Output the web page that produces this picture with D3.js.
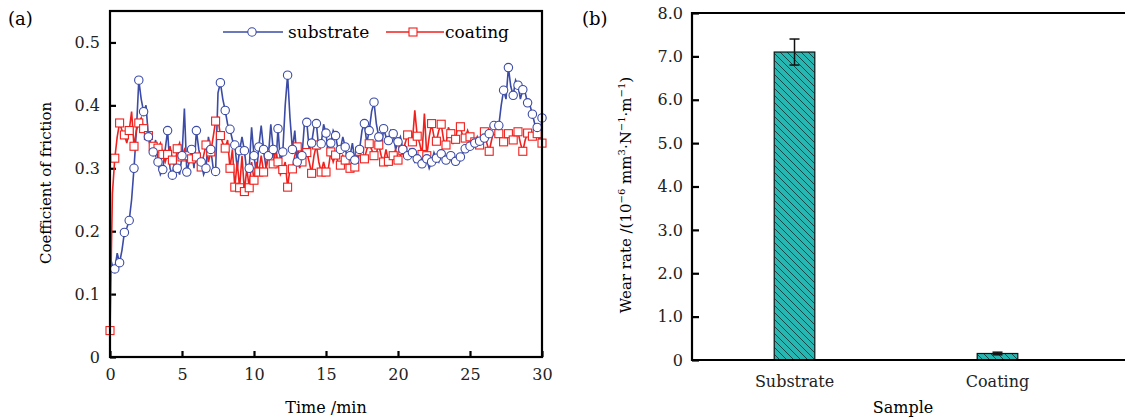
<!DOCTYPE html>
<html>
<head>
<meta charset="utf-8">
<script src="https://cdn.jsdelivr.net/npm/d3@7"></script>
<style>
  body { margin: 0; background: #fff; }
  svg { display: block; font-family: "DejaVu Serif", serif; }
  .axis text { font-size: 16px; fill: #222; font-family: "DejaVu Serif", serif; }
</style>
</head>
<body>
<svg id="chart" width="1125" height="417"></svg>
<script>
// sampling step of the friction record (min); markers sit on every second sample
const sampleStep = 1 / 6

// coefficient of friction, substrate (blue), one value per sample, 0 .. 30 min
const substrateCof = [
    0.16, 0.145, 0.14, 0.165, 0.15, 0.17, 0.198, 0.205, 0.217, 0.25, 0.30, 0.36,
    0.44, 0.41, 0.39, 0.40, 0.35, 0.33, 0.326, 0.345, 0.31, 0.29, 0.298, 0.33,
    0.36, 0.30, 0.289, 0.315, 0.30, 0.29, 0.32, 0.395, 0.294, 0.31, 0.33, 0.30,
    0.36, 0.33, 0.31, 0.29, 0.30, 0.35, 0.33, 0.30, 0.295, 0.42, 0.436, 0.41,
    0.392, 0.37, 0.362, 0.345, 0.337, 0.30, 0.328, 0.35, 0.328, 0.294, 0.30, 0.365,
    0.32, 0.29, 0.334, 0.368, 0.33, 0.30, 0.32, 0.37, 0.33, 0.30, 0.363, 0.31,
    0.326, 0.40, 0.448, 0.38, 0.33, 0.36, 0.31, 0.34, 0.32, 0.37, 0.373, 0.33,
    0.34, 0.365, 0.371, 0.33, 0.339, 0.37, 0.356, 0.32, 0.34, 0.36, 0.352, 0.33,
    0.33, 0.35, 0.334, 0.31, 0.32, 0.34, 0.313, 0.30, 0.33, 0.36, 0.371, 0.34,
    0.36, 0.39, 0.405, 0.37, 0.35, 0.33, 0.363, 0.35, 0.344, 0.36, 0.355, 0.33,
    0.342, 0.35, 0.33, 0.335, 0.32, 0.33, 0.325, 0.31, 0.315, 0.32, 0.307, 0.315,
    0.315, 0.30, 0.31, 0.325, 0.316, 0.31, 0.323, 0.32, 0.313, 0.322, 0.32, 0.315,
    0.311, 0.315, 0.318, 0.325, 0.331, 0.33, 0.335, 0.34, 0.34, 0.335, 0.343, 0.345,
    0.348, 0.35, 0.355, 0.36, 0.368, 0.36, 0.368, 0.40, 0.424, 0.41, 0.46, 0.43,
    0.416, 0.44, 0.432, 0.41, 0.425, 0.42, 0.404, 0.40, 0.386, 0.37, 0.365, 0.34,
    0.38
]

// coefficient of friction, coating (red)
const coatingCof = [
    0.042, 0.26, 0.316, 0.35, 0.372, 0.36, 0.353, 0.34, 0.36, 0.39, 0.335, 0.36,
    0.372, 0.38, 0.363, 0.35, 0.352, 0.34, 0.335, 0.32, 0.332, 0.34, 0.322, 0.31,
    0.322, 0.335, 0.313, 0.30, 0.331, 0.34, 0.318, 0.33, 0.32, 0.31, 0.315, 0.33,
    0.318, 0.30, 0.302, 0.32, 0.337, 0.31, 0.326, 0.35, 0.375, 0.38, 0.352, 0.34,
    0.332, 0.345, 0.30, 0.33, 0.27, 0.31, 0.269, 0.32, 0.263, 0.30, 0.269, 0.31,
    0.281, 0.31, 0.294, 0.32, 0.294, 0.30, 0.323, 0.31, 0.307, 0.33, 0.31, 0.29,
    0.298, 0.31, 0.27, 0.30, 0.299, 0.32, 0.334, 0.30, 0.31, 0.33, 0.325, 0.31,
    0.292, 0.32, 0.337, 0.31, 0.294, 0.31, 0.294, 0.30, 0.326, 0.31, 0.321, 0.31,
    0.305, 0.32, 0.313, 0.30, 0.30, 0.31, 0.302, 0.315, 0.327, 0.32, 0.315, 0.33,
    0.339, 0.33, 0.32, 0.325, 0.337, 0.32, 0.31, 0.33, 0.311, 0.32, 0.32, 0.33,
    0.313, 0.32, 0.328, 0.34, 0.353, 0.34, 0.342, 0.392, 0.351, 0.34, 0.322, 0.387,
    0.32, 0.35, 0.371, 0.35, 0.343, 0.36, 0.37, 0.345, 0.337, 0.365, 0.355, 0.34,
    0.346, 0.37, 0.366, 0.35, 0.348, 0.36, 0.35, 0.345, 0.342, 0.35, 0.337, 0.345,
    0.358, 0.34, 0.327, 0.345, 0.36, 0.35, 0.355, 0.345, 0.342, 0.35, 0.355, 0.345,
    0.345, 0.36, 0.358, 0.34, 0.327, 0.345, 0.356, 0.35, 0.351, 0.36, 0.355, 0.345,
    0.34
]

const timeTicks = [0, 5, 10, 15, 20, 25, 30]
const cofTicks = [0, 0.1, 0.2, 0.3, 0.4, 0.5]

// wear rate, 10^-6 mm^3 N^-1 m^-1
const samples = ['Substrate', 'Coating']
const wearRate = [7.1, 0.15]
const wearErr = [0.3, 0.03]
const wearTicks = [0, 1, 2, 3, 4, 5, 6, 7, 8]

const blue = '#3b4ba6'
const red = '#f0201c'
const teal = '#27b7b2'

let svg = d3.select('#chart')

drawFriction()
drawWear()

function drawFriction() {
    let margin = { left: 110, right: 542, top: 11, bottom: 357 }

    let xScale = d3.scaleLinear().domain([0, 30]).range([margin.left, margin.right])
    let yScale = d3.scaleLinear().domain([0, 0.55]).range([margin.bottom, margin.top])

    let g = svg.append('g')

    g.append('text').attr('x', 8).attr('y', 25).style('font-size', '18px').text('(a)')

    let yAxis = d3.axisLeft(yScale).tickValues(cofTicks).tickSize(-6).tickPadding(10)
        .tickFormat(d => d === 0 ? '0' : d3.format('.1f')(d))
    let xAxis = d3.axisBottom(xScale).tickValues(timeTicks).tickSize(-6).tickPadding(12)

    let yAxisEl = g.append('g').attr('class', 'axis')
        .attr('transform', `translate(${margin.left},0)`).call(yAxis)
    let xAxisEl = g.append('g').attr('class', 'axis')
        .attr('transform', `translate(0,${margin.bottom})`).call(xAxis)
    for (let el of [xAxisEl, yAxisEl]) {
        el.attr('font-family', null).attr('font-size', null)
        el.select('.domain').remove()
        el.selectAll('.tick line').attr('stroke', '#000').attr('stroke-width', 2.2)
    }

    let line = d3.line()
        .x((d, i) => xScale(i * sampleStep))
        .y(d => yScale(d))

    g.append('path').datum(substrateCof).attr('d', line)
        .attr('fill', 'none').attr('stroke', blue).attr('stroke-width', 1.6)
    g.append('path').datum(coatingCof).attr('d', line)
        .attr('fill', 'none').attr('stroke', red).attr('stroke-width', 1.6)

    let blueMarks = substrateCof.map((v, i) => [i, v]).filter(d => d[0] % 2 === 0 && d[0] > 0)
    let redMarks = coatingCof.map((v, i) => [i, v]).filter(d => d[0] % 2 === 0)

    g.append('g').selectAll('rect').data(redMarks).join('rect')
        .attr('x', d => xScale(d[0] * sampleStep) - 4)
        .attr('y', d => yScale(d[1]) - 4)
        .attr('width', 8).attr('height', 8)
        .attr('fill', '#fff').attr('stroke', red).attr('stroke-width', 1.1)

    g.append('g').selectAll('circle').data(blueMarks).join('circle')
        .attr('cx', d => xScale(d[0] * sampleStep))
        .attr('cy', d => yScale(d[1]))
        .attr('r', 4.2)
        .attr('fill', '#fff').attr('stroke', blue).attr('stroke-width', 1.1)

    // frame
    g.append('rect')
        .attr('x', margin.left).attr('y', margin.top)
        .attr('width', margin.right - margin.left).attr('height', margin.bottom - margin.top)
        .attr('fill', 'none').attr('stroke', '#000').attr('stroke-width', 2.2)

    // legend
    let legend = g.append('g')
    legend.append('line').attr('x1', 223).attr('x2', 283).attr('y1', 32).attr('y2', 32)
        .attr('stroke', blue).attr('stroke-width', 1.6)
    legend.append('circle').attr('cx', 252).attr('cy', 32).attr('r', 4.2)
        .attr('fill', '#fff').attr('stroke', blue).attr('stroke-width', 1.1)
    legend.append('text').attr('x', 288).attr('y', 38).style('font-size', '17px').text('substrate')
    legend.append('line').attr('x1', 386).attr('x2', 444).attr('y1', 32).attr('y2', 32)
        .attr('stroke', red).attr('stroke-width', 1.6)
    legend.append('rect').attr('x', 409).attr('y', 28).attr('width', 8).attr('height', 8)
        .attr('fill', '#fff').attr('stroke', red).attr('stroke-width', 1.1)
    legend.append('text').attr('x', 445).attr('y', 38).style('font-size', '17px').text('coating')

    g.append('text')
        .attr('x', (margin.left + margin.right) / 2).attr('y', 413)
        .attr('text-anchor', 'middle').style('font-size', '16px')
        .text('Time /min')

    g.append('text')
        .attr('transform', `translate(51,183) rotate(-90)`)
        .attr('text-anchor', 'middle').style('font-size', '15px')
        .text('Coefficient of friction')
}

function drawWear() {
    let margin = { left: 692, right: 1114, top: 13, bottom: 360 }

    let xScale = d3.scaleBand().domain(samples).range([margin.left, 1100])
        .paddingInner(0.8).paddingOuter(0.405)
    let yScale = d3.scaleLinear().domain([0, 8]).range([margin.bottom, margin.top])

    let g = svg.append('g')

    g.append('text').attr('x', 582).attr('y', 25).style('font-size', '18px').text('(b)')

    let defs = svg.append('defs')
    let hatch = defs.append('pattern')
        .attr('id', 'hatch')
        .attr('patternUnits', 'userSpaceOnUse')
        .attr('width', 7).attr('height', 7)
    hatch.append('rect').attr('width', 7).attr('height', 7).attr('fill', teal)
    hatch.append('path').attr('d', 'M-1,-1 L8,8 M-1,6 L1,8 M6,-1 L8,1')
        .attr('stroke', '#1c3a3a').attr('stroke-width', 0.9)

    let yAxis = d3.axisLeft(yScale).tickValues(wearTicks).tickSize(-7).tickPadding(9)
        .tickFormat(d => d === 0 ? '0' : d3.format('.1f')(d))
    let yAxisEl = g.append('g').attr('class', 'axis')
        .attr('transform', `translate(${margin.left},0)`).call(yAxis)
    yAxisEl.attr('font-family', null).attr('font-size', null)
    yAxisEl.select('.domain').remove()
    yAxisEl.selectAll('.tick line').attr('stroke', '#000').attr('stroke-width', 2.2)

    let xAxis = d3.axisBottom(xScale).tickSize(0).tickPadding(16)
    let xAxisEl = g.append('g').attr('class', 'axis')
        .attr('transform', `translate(0,${margin.bottom})`).call(xAxis)
    xAxisEl.attr('font-family', null).attr('font-size', null)
    xAxisEl.select('.domain').remove()

    g.append('g').selectAll('rect').data(samples).join('rect')
        .attr('x', d => xScale(d))
        .attr('y', (d, i) => yScale(wearRate[i]))
        .attr('width', xScale.bandwidth())
        .attr('height', (d, i) => yScale(0) - yScale(wearRate[i]))
        .attr('fill', 'url(#hatch)')
        .attr('stroke', '#111').attr('stroke-width', 1.2)

    let errG = g.append('g').attr('stroke', '#111').attr('stroke-width', 1.5)
    samples.forEach((s, i) => {
        let cx = xScale(s) + xScale.bandwidth() / 2
        let top = yScale(wearRate[i] + wearErr[i])
        let bottom = yScale(wearRate[i] - wearErr[i])
        errG.append('line').attr('x1', cx).attr('x2', cx).attr('y1', top).attr('y2', bottom)
        errG.append('line').attr('x1', cx - 5).attr('x2', cx + 5).attr('y1', top).attr('y2', top)
        errG.append('line').attr('x1', cx - 5).attr('x2', cx + 5).attr('y1', bottom).attr('y2', bottom)
    })

    // frame, right side runs off the picture
    g.append('path')
        .attr('d', `M1140,${margin.top} H${margin.left} V${margin.bottom} H1140`)
        .attr('fill', 'none').attr('stroke', '#000').attr('stroke-width', 2.2)

    g.append('text')
        .attr('x', (margin.left + margin.right) / 2).attr('y', 413)
        .attr('text-anchor', 'middle').style('font-size', '16px')
        .text('Sample')

    let yl = g.append('text')
        .attr('transform', `translate(631,195) rotate(-90)`)
        .attr('text-anchor', 'middle').style('font-size', '15px')
    yl.append('tspan').text('Wear rate /(10')
    yl.append('tspan').attr('dy', -6).style('font-size', '10px').text('−6')
    yl.append('tspan').attr('dy', 6).text(' mm')
    yl.append('tspan').attr('dy', -6).style('font-size', '10px').text('3')
    yl.append('tspan').attr('dy', 6).text('·N')
    yl.append('tspan').attr('dy', -6).style('font-size', '10px').text('−1')
    yl.append('tspan').attr('dy', 6).text('·m')
    yl.append('tspan').attr('dy', -6).style('font-size', '10px').text('−1')
    yl.append('tspan').attr('dy', 6).text(')')
}
</script>
</body>
</html>
